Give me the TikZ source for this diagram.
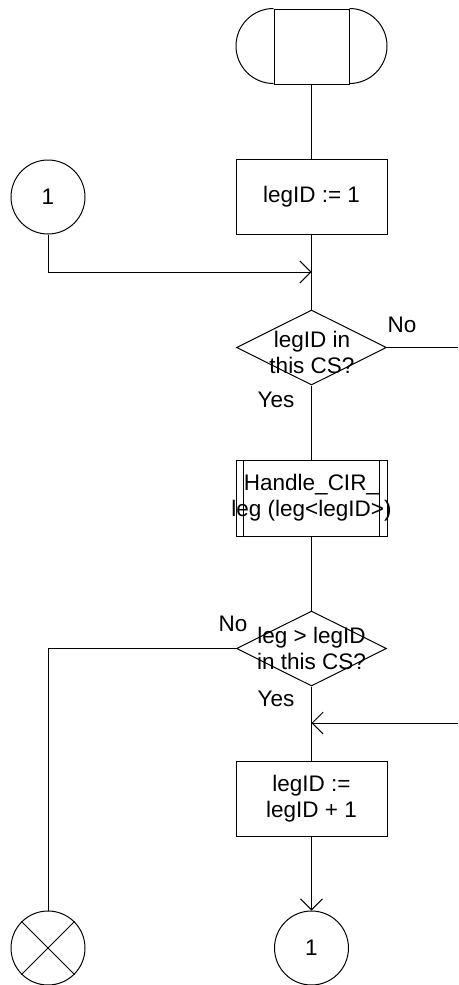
\documentclass[tikz,border=0pt]{standalone}
\usepackage{fontspec}
\setmainfont{Liberation Sans}
\usetikzlibrary{shapes.geometric,arrows.meta}
\begin{document}
\begin{tikzpicture}[x=1pt,y=1pt,
  every node/.style={font=\fontsize{22.5}{26}\selectfont},
  conn/.style={line width=1pt},
  arr/.style={line width=1pt,-{Straight Barb[length=11pt,width=22pt,line width=1pt]}},
  procbox/.style={draw,line width=1pt,rectangle,minimum width=151pt,minimum height=75pt,inner sep=0pt,align=center},
  decbox/.style={draw,line width=1pt,diamond,minimum width=150pt,minimum height=75pt,inner sep=0pt},
  conncirc/.style={draw,line width=1pt,circle,minimum size=74pt,inner sep=0pt},
  txt/.style={inner sep=0pt,align=center}
]
\useasboundingbox (0,0) rectangle (458,-985);

% terminal
\node[draw,line width=1pt,rectangle,minimum width=75pt,minimum height=75pt,inner sep=0pt] (term) at (311.5,-46.5) {};
\draw[conn] (term.north west) arc[start angle=90,end angle=270,radius=37.5pt];
\draw[conn] (term.north east) arc[start angle=90,end angle=-90,radius=37.5pt];

\node[procbox] (box1) at (311.5,-196.5) {legID := 1};
\node[conncirc] (c1) at (48,-197) {1};
\coordinate (j1) at (311.5,-272);

\node[decbox] (d1) at (311.5,-347.5) {};
\node[txt] (t1) at (312,-352) {legID in\\this CS?};
\coordinate (e1) at (458,-347.5);
\node[txt] (no1) at (402,-325) {No};
\node[txt] (yes1) at (276,-400) {Yes};

\node[procbox,minimum height=76pt] (hd) at (311.5,-498) {};
\draw[conn] ([xshift=8pt]hd.north west) -- ([xshift=8pt]hd.south west);
\draw[conn] ([xshift=-8pt]hd.north east) -- ([xshift=-8pt]hd.south east);
\node[txt] (th) at (311.5,-498) {Handle\_CIR\_\\leg (leg<legID>)};

\node[decbox] (d2) at (311.5,-648.5) {};
\node[txt] (t2) at (311.5,-648.5) {leg > legID\\in this CS?};
\node[txt] (no2) at (233,-624) {No};
\node[txt] (yes2) at (276,-699) {Yes};
\coordinate (k2) at (48,-648.5);

\coordinate (j2) at (311.5,-723);
\coordinate (e2) at (458,-723);

\node[procbox] (box3) at (311.5,-798.5) {legID :=\\legID + 1};
\node[conncirc] (c2) at (311.5,-948) {1};
\node[conncirc] (xc) at (48,-948) {};
\draw[conn] (xc.north west) -- (xc.south east);
\draw[conn] (xc.north east) -- (xc.south west);

% connectors
\draw[conn] (term.south) -- (box1.north);
\draw[conn] (box1.south) -- (d1.north);
\draw[arr] (c1.south) |- (j1);
\draw[conn] (d1.east) -- (e1);
\draw[conn] (d1.south) -- (hd.north);
\draw[conn] (hd.south) -- (d2.north);
\draw[conn] (d2.west) -- (k2) -- (xc.north);
\draw[conn] (d2.south) -- (box3.north);
\draw[arr] (e2) -- (j2);
\draw[arr] (box3.south) -- (c2.north);
\end{tikzpicture}
\end{document}
